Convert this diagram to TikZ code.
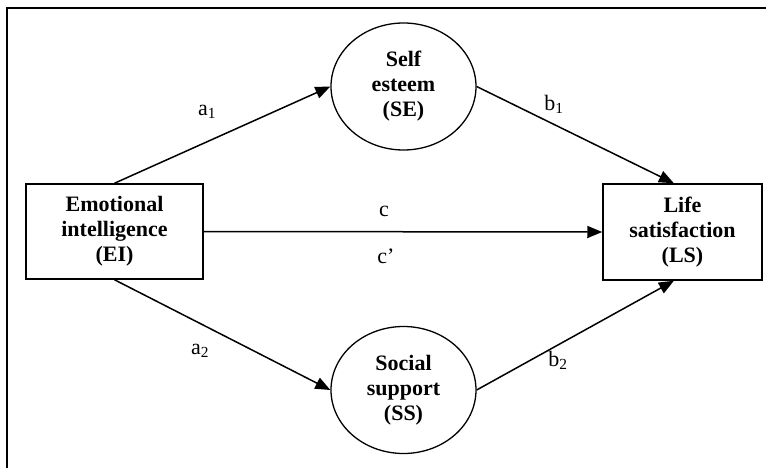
\documentclass[tikz,border=0pt]{standalone}
\usepackage{fontspec}
\setmainfont{Liberation Serif}
\usepackage{tikz}
\usetikzlibrary{shapes.geometric,arrows.meta,positioning}

\begin{document}
\begin{tikzpicture}[
    x=1pt, y=-1pt,
    box/.style={draw, line width=1.5pt, align=center, font=\fontsize{22}{25}\selectfont\bfseries, inner sep=0pt},
    latent/.style={draw, ellipse, line width=1.3pt, align=center, font=\fontsize{22}{25}\selectfont\bfseries, inner sep=0pt, minimum width=145, minimum height=127},
    arr/.style={-{Triangle[length=15pt, width=12pt]}, line width=1.5pt},
    lbl/.style={font=\fontsize{22}{25}\selectfont, inner sep=0pt}
  ]
    \useasboundingbox (0,0) rectangle (766,468);
    % frame
    \draw[line width=1.6pt] (7,468) -- (7,8) -- (766,8);

    \node[box, minimum width=177, minimum height=95] (ei) at (114.5,231.5) {Emotional\\intelligence\\(EI)};
    \node[box, minimum width=159, minimum height=96] (ls) at (682.5,232) {Life\\satisfaction\\(LS)};
    \node[latent] (se) at (403.5,86.5) {Self\\esteem\\(SE)};
    \node[latent] (ss) at (403.5,390) {Social\\support\\(SS)};

    \draw[arr] (ei.north) -- (se.west);
    \draw[arr] (se.east) -- (ls.100);
    \draw[arr] (ei.east) -- (ls.west);
    \draw[arr] (ei.south) -- (ss.west);
    \draw[arr] (ss.east) -- (ls.260);

    \node[lbl] (a1) at (207,112) {a\textsubscript{1}};
    \node[lbl] (b1) at (554,104) {b\textsubscript{1}};
    \node[lbl] (c) at (384,211) {c};
    \node[lbl] (cp) at (386,256) {c'};
    \node[lbl] (a2) at (200,351) {a\textsubscript{2}};
    \node[lbl] (b2) at (558,360) {b\textsubscript{2}};
\end{tikzpicture}
\end{document}
